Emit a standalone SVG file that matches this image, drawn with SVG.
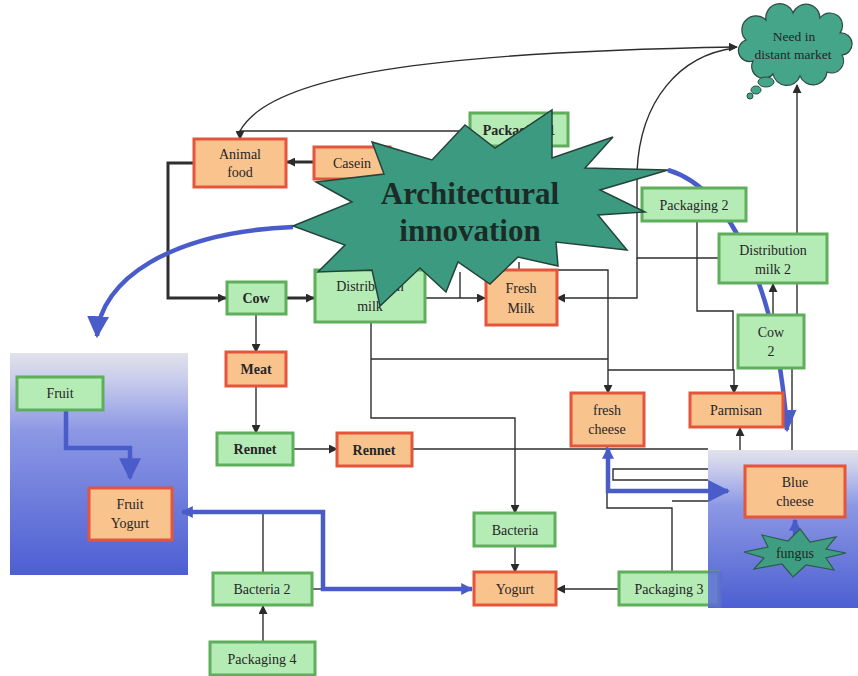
<svg xmlns="http://www.w3.org/2000/svg" width="858" height="676" viewBox="0 0 858 676">
<defs>
<linearGradient id="bluebox" x1="0" y1="0" x2="0" y2="1">
<stop offset="0" stop-color="#e2e2ea"/>
<stop offset="0.12" stop-color="#c9ccec"/>
<stop offset="0.35" stop-color="#8c98e4"/>
<stop offset="1" stop-color="#4d5fd2"/>
</linearGradient>
<marker id="ah" viewBox="0 0 10 10" refX="9" refY="5" markerWidth="9" markerHeight="9" markerUnits="userSpaceOnUse" orient="auto">
<path d="M0,0 L10,5 L0,10 z" fill="#2b2b2b"/>
</marker>
<marker id="ahb" viewBox="0 0 10 10" refX="9" refY="5" markerWidth="12" markerHeight="12" markerUnits="userSpaceOnUse" orient="auto">
<path d="M0,0 L10,5 L0,10 z" fill="#4a5cca"/>
</marker>
<marker id="ahbs" viewBox="0 0 10 10" refX="1" refY="5" markerWidth="12" markerHeight="12" markerUnits="userSpaceOnUse" orient="auto">
<path d="M10,0 L0,5 L10,10 z" fill="#4a5cca"/>
</marker>
<marker id="ahbig" viewBox="0 0 10 10" refX="9" refY="5" markerWidth="22" markerHeight="22" markerUnits="userSpaceOnUse" orient="auto">
<path d="M0,0 L10,5 L0,10 z" fill="#4a5cca"/>
</marker>
</defs>
<style>
.o rect{fill:#f9c38e;stroke:#e4553c;stroke-width:3}
.g rect{fill:#b5ecb6;stroke:#5fae5c;stroke-width:3}
text{font-family:"Liberation Serif","Times New Roman",serif;font-size:14px;fill:#262626;text-anchor:middle}
.b{font-weight:bold}
.big{font-size:31px;font-weight:bold;fill:#1b2b27}
.cl{font-size:13.5px}
.c{fill:none;stroke:#2e2e2e;stroke-width:1.4}
.ct{fill:none;stroke:#2e2e2e;stroke-width:3}
.bl{fill:none;stroke:#4a5cca;stroke-width:4.5}
</style>
<rect width="858" height="676" fill="#ffffff"/>

<g id="regions">
<rect x="10" y="353" width="178" height="222" fill="url(#bluebox)"/>
<rect x="708" y="450" width="150" height="158" fill="url(#bluebox)"/>
</g>

<g id="connectors">
<path class="c" d="M470,131 H240 V139" marker-end="url(#ah)"/>
<path class="c" d="M240,131 C270,75 430,52 737,47" marker-end="url(#ah)"/>
<path class="c" d="M719,258 H637 V172 C640,100 680,55 735,48"/>
<path class="c" d="M637,258 V298 H557" marker-end="url(#ah)"/>
<path class="ct" d="M314,162 H287" marker-end="url(#ah)"/>
<path class="ct" d="M194,163 H168 V298 H226" marker-end="url(#ah)"/>
<path class="ct" d="M286,298 H314" marker-end="url(#ah)"/>
<path class="c" d="M256,314 V352" marker-end="url(#ah)"/>
<path class="c" d="M256,386 V433" marker-end="url(#ah)"/>
<path class="c" d="M293,449 H337" marker-end="url(#ah)"/>
<path class="c" d="M412,449 H708"/>
<path class="c" d="M425,298 H485" marker-end="url(#ah)"/>
<path class="c" d="M460,272 V298"/>
<path class="c" d="M519,262 V270 H608 V393" marker-end="url(#ah)"/>
<path class="c" d="M371,322 V418 H515 V513" marker-end="url(#ah)"/>
<path class="c" d="M371,359 H608"/>
<path class="c" d="M608,370 H734 V393" marker-end="url(#ah)"/>
<path class="c" d="M697,221 V311 H733 V370"/>
<path class="c" d="M797,234 V85" marker-end="url(#ah)"/>
<path class="c" d="M773,315 V284" marker-end="url(#ah)"/>
<path class="c" d="M797,283 V315"/>
<path class="c" d="M792,368 V450"/>
<path class="c" d="M740,450 V428" marker-end="url(#ah)"/>
<path class="c" d="M708,469 H613 V480 H708" stroke="#6a6f99"/>
<path class="c" d="M607,446 V508 H672 V572"/>
<path class="c" d="M672,501 H708"/>
<path class="c" d="M619,589 H557" marker-end="url(#ah)"/>
<path class="c" d="M515,546 V572" marker-end="url(#ah)"/>
<path class="c" d="M263,642 V606" marker-end="url(#ah)"/>
<path class="c" d="M263,573 V512"/>
<path class="c" d="M312,589 H323"/>
<path class="bl" d="M472,589 H323 V512 H182" marker-end="url(#ahb)" marker-start="url(#ahbs)"/>
<path class="bl" d="M608,448 V491 H728" marker-start="url(#ahbs)" marker-end="url(#ahbig)"/>
<path class="bl" d="M668,170 C735,190 778,300 787,430" marker-end="url(#ahbig)"/>
<path class="bl" d="M293,227 C170,232 100,280 97,336" marker-end="url(#ahbig)"/>
<path class="bl" d="M66,410 V448 H130 V478" stroke-width="3.5" marker-end="url(#ahbig)"/>
<path class="bl" d="M795,535 V520" stroke-width="3" marker-end="url(#ahb)"/>
</g>

<g id="animal-food" class="o"><rect x="194" y="139" width="92" height="48"/><text x="240" y="159">Animal</text><text x="240" y="177">food</text></g>
<g id="casein" class="o"><rect x="314" y="147" width="76" height="32"/><text x="352" y="168">Casein</text></g>
<g id="packaging-1" class="g"><rect x="470" y="113" width="98" height="33"/><text x="519" y="135" class="b">Packaging 1</text></g>
<g id="packaging-2" class="g"><rect x="642" y="188" width="104" height="33"/><text x="694" y="210">Packaging 2</text></g>
<g id="distribution-milk-2" class="g"><rect x="719" y="234" width="108" height="49"/><text x="773" y="255">Distribution</text><text x="773" y="274">milk 2</text></g>
<g id="cow-2" class="g"><rect x="738" y="315" width="66" height="53"/><text x="771" y="337">Cow</text><text x="771" y="356">2</text></g>
<g id="cow" class="g"><rect x="227" y="282" width="59" height="32"/><text x="256" y="303" class="b">Cow</text></g>
<g id="distribution-milk" class="g"><rect x="315" y="270" width="110" height="52"/><text x="370" y="291">Distribution</text><text x="370" y="311">milk</text></g>
<g id="fresh-milk" class="o"><rect x="486" y="270" width="71" height="55"/><text x="521" y="293">Fresh</text><text x="521" y="313">Milk</text></g>
<g id="meat" class="o"><rect x="226" y="352" width="60" height="34"/><text x="256" y="374" class="b">Meat</text></g>
<g id="rennet-1" class="g"><rect x="217" y="433" width="76" height="32"/><text x="255" y="454" class="b">Rennet</text></g>
<g id="rennet-2" class="o"><rect x="337" y="433" width="75" height="33"/><text x="374" y="455" class="b">Rennet</text></g>
<g id="fresh-cheese" class="o"><rect x="571" y="393" width="73" height="53"/><text x="607" y="415">fresh</text><text x="607" y="434">cheese</text></g>
<g id="parmisan" class="o"><rect x="690" y="393" width="93" height="34"/><text x="736" y="415">Parmisan</text></g>
<g id="blue-cheese" class="o"><rect x="745" y="466" width="100" height="51"/><text x="795" y="487">Blue</text><text x="795" y="506">cheese</text></g>
<g id="fungus"><path d="M846,553 L826,549 L836,537 L810,542 L800,529 L788,541 L762,535 L768,547 L744,552 L764,558 L754,569 L782,564 L793,577 L806,565 L834,570 L826,558 z" fill="#3f9e82" stroke="#2c5a4c" stroke-width="1.2"/><text x="795" y="558">fungus</text></g>
<g id="fruit" class="g"><rect x="17" y="377" width="86" height="33"/><text x="60" y="398">Fruit</text></g>
<g id="fruit-yogurt" class="o"><rect x="89" y="488" width="83" height="52"/><text x="130" y="509">Fruit</text><text x="130" y="528">Yogurt</text></g>
<g id="bacteria" class="g"><rect x="474" y="513" width="81" height="33"/><text x="515" y="535">Bacteria</text></g>
<g id="yogurt" class="o"><rect x="474" y="572" width="82" height="33"/><text x="515" y="594">Yogurt</text></g>
<g id="bacteria-2" class="g"><rect x="213" y="573" width="99" height="32"/><text x="262" y="594">Bacteria 2</text></g>
<g id="packaging-4" class="g"><rect x="210" y="642" width="105" height="33"/><text x="262" y="664">Packaging 4</text></g>
<g id="packaging-3" class="g"><rect x="619" y="572" width="100" height="33"/><text x="669" y="594">Packaging 3</text></g>
<rect x="708" y="571" width="14" height="37" fill="#5a6ad6" opacity="0.85"/>

<g id="need-in-distant-market">
<path d="M746,40 A12,12 0 0 1 766,20 A14,14 0 0 1 793,13 A14,14 0 0 1 820,18 A12,12 0 0 1 840,33 A11,11 0 0 1 842,55 A12,12 0 0 1 827,72 A14,14 0 0 1 800,76 A14,14 0 0 1 773,74 A12,12 0 0 1 753,61 A11,11 0 0 1 746,40 z" fill="#45a588" stroke="#2e4a40" stroke-width="1.2"/>
<ellipse cx="766" cy="82" rx="8" ry="5" fill="#45a588" stroke="#2e4a40" stroke-width="1"/>
<ellipse cx="756" cy="90" rx="5" ry="4" fill="#45a588" stroke="#2e4a40" stroke-width="1"/>
<ellipse cx="750" cy="96" rx="3" ry="3" fill="#45a588" stroke="#2e4a40" stroke-width="1"/>
<text x="794" y="41" class="cl">Need in</text>
<text x="793" y="59" class="cl">distant market</text>
</g>

<g id="architectural-innovation">
<path d="M293,226 L352,202 L316,182 L384,174 L372,142 L432,160 L465,125 L495,148 L552,110 L552,158 L613,137 L585,168 L668,170 L600,190 L645,212 L598,215 L627,250 L556,242 L558,266 L518,257 L490,284 L458,262 L446,292 L420,268 L380,306 L372,270 L318,272 L345,245 z" fill="#3c9a80" stroke="#24433a" stroke-width="1.5"/>
<text x="470" y="204" class="big">Architectural</text>
<text x="470" y="241" class="big">innovation</text>
</g>
</svg>
